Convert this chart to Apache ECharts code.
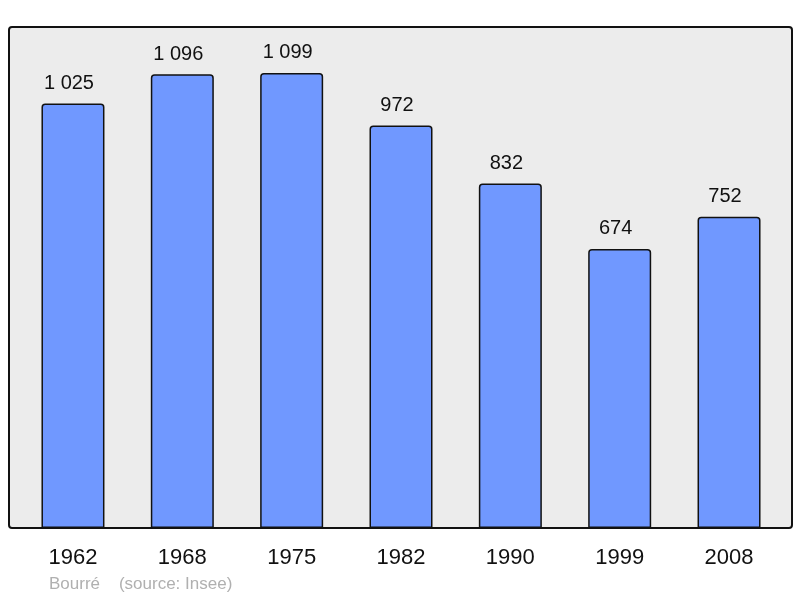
<!DOCTYPE html>
<html><head><meta charset="utf-8">
<script src="https://cdn.jsdelivr.net/npm/echarts@6/dist/echarts.min.js"></script>
<style>html,body{margin:0;padding:0;background:#fff}#c{width:800px;height:598px}</style>
</head><body><div id="c"></div>
<script>
var years = ['1962','1968','1975','1982','1990','1999','2008'];
var population = [1025, 1096, 1099, 972, 832, 674, 752];
var sourceText = 'Bourré    (source: Insee)';

function fmt(v){ return String(v).replace(/\B(?=(\d{3})+(?!\d))/g, ' '); }

var chart = echarts.init(document.getElementById('c'), null, {renderer:'canvas'});
chart.setOption({
  animation:false,
  backgroundColor:'#ffffff',
  graphic:[
    {type:'rect', z:-10, shape:{x:9,y:27,width:783,height:501,r:3},
     style:{fill:'#ececec', stroke:'#111', lineWidth:2}},
    {type:'text', left:49, top:576, style:{text:sourceText, fill:'#b0b0b0', font:'17px "Liberation Sans", Arial, sans-serif'}}
  ],
  grid:{left:18.3, right:16.3, top:27, bottom:70},
  xAxis:{type:'category', data:years,
    axisLine:{show:false}, axisTick:{show:false},
    axisLabel:{color:'#111', fontSize:22, fontFamily:'"Liberation Sans", Arial, sans-serif', margin:19}},
  yAxis:{type:'value', min:0, max:1210, show:false, splitLine:{show:false}},
  series:[{type:'bar', data:population, barWidth:63,
    itemStyle:{color:'#7098ff', borderColor:'#111', borderWidth:1.5, borderRadius:[3,3,0,0]},
    label:{show:true, position:'top', distance:10, offset:[-4,0], color:'#111', fontSize:20,
      fontFamily:'"Liberation Sans", Arial, sans-serif',
      formatter:function(p){return fmt(p.value);}}
  }]
});
</script></body></html>
